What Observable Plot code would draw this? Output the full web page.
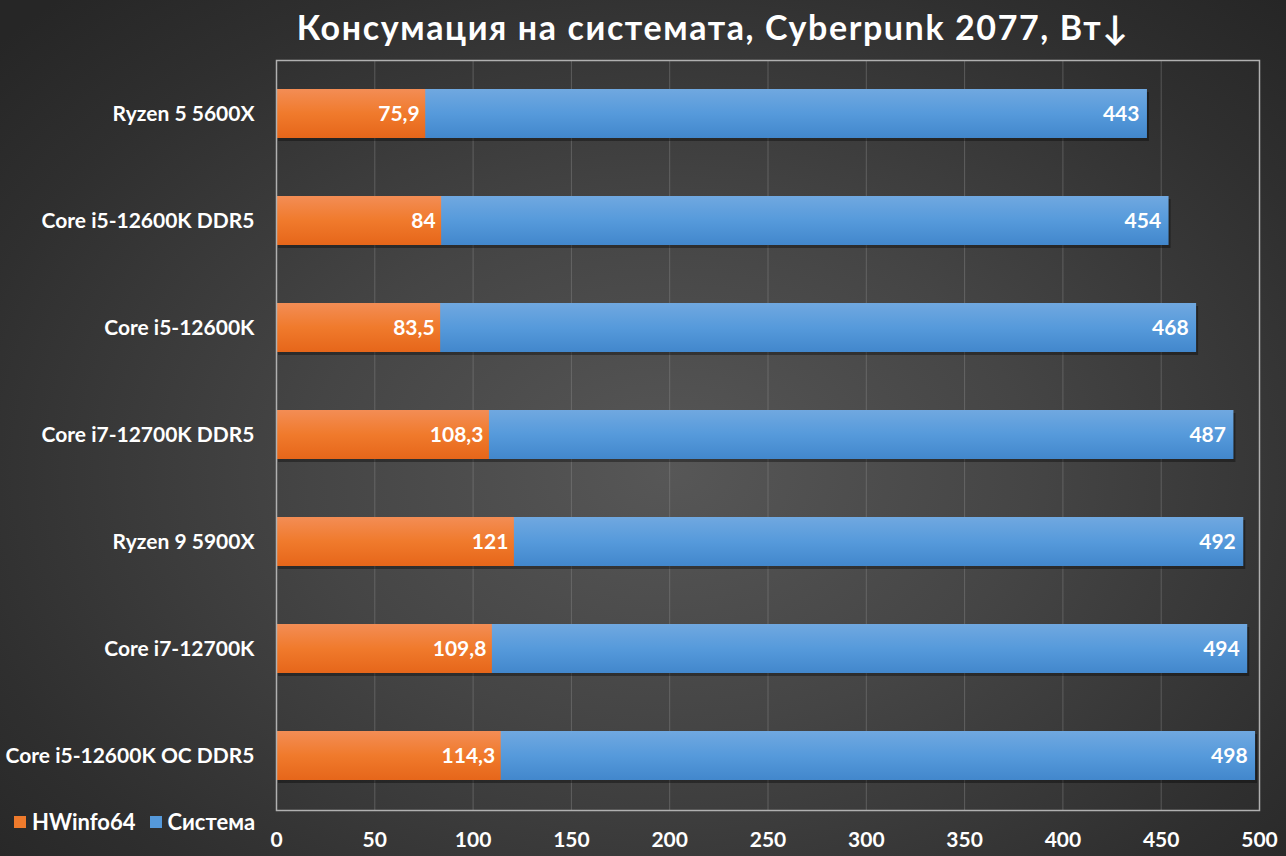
<!DOCTYPE html>
<html>
<head>
<meta charset="utf-8">
<script src="https://cdn.jsdelivr.net/npm/d3@7"></script>
<script src="https://cdn.jsdelivr.net/npm/@observablehq/plot@0.6"></script>
<style>
  html, body { margin: 0; padding: 0; }
  body {
    width: 1286px; height: 856px; overflow: hidden; position: relative;
    background: radial-gradient(ellipse 70% 75% at 52% 55%, #575757 0%, #454545 40%, #2f2f2f 80%, #262626 100%);
    font-family: Lato, "Open Sans", sans-serif; color: #fff;
  }
  #title {
    height: 56px; line-height: 54px; box-sizing: border-box;
    padding-left: 140px; text-align: center;
    font-size: 34px; font-weight: 700; letter-spacing: 1.6px;
    color: #fff;
  }
  #legend {
    position: absolute; left: 14px; top: 808px;
    font-size: 22px; font-weight: 700; display: flex; align-items: center; gap: 0;
  }
  #legend .sw { display: inline-block; width: 12px; height: 12px; margin-right: 6px; }
  #legend .item { display: flex; align-items: center; margin-right: 14px; }
  svg { display: block; background: transparent; overflow: visible; }
</style>
</head>
<body>
<div id="title">Консумация на системата, Cyberpunk 2077, Вт↓</div>
<div id="chart"></div>
<div id="legend">
  <span class="item"><span class="sw" style="background:#EE7A2C"></span>HWinfo64</span>
  <span class="item"><span class="sw" style="background:#5599DB"></span>Система</span>
</div>
<script>
const categories = [
  "Ryzen 5 5600X",
  "Core i5-12600K DDR5",
  "Core i5-12600K",
  "Core i7-12700K DDR5",
  "Ryzen 9 5900X",
  "Core i7-12700K",
  "Core i5-12600K OC DDR5"
];
const hwinfo = [75.9, 84, 83.5, 108.3, 121, 109.8, 114.3];
const system = [443, 454, 468, 487, 492, 494, 498];
const xTicks = [0, 50, 100, 150, 200, 250, 300, 350, 400, 450, 500];

const rows = categories.map((c, i) => ({cpu: c, hw: hwinfo[i], sys: system[i]}));
const fmt = v => String(v).replace(".", ",");

const chart = Plot.plot({
  width: 1286,
  height: 800,
  marginTop: 4,
  marginBottom: 46,
  marginLeft: 276,
  marginRight: 27,
  style: {background: "transparent", color: "#fff", fontFamily: "Lato, 'Open Sans', sans-serif"},
  x: {domain: [0, 500], ticks: xTicks, label: null},
  y: {domain: categories, label: null, paddingInner: 0.54, paddingOuter: 0.25},
  marks: [
    Plot.gridX(xTicks, {stroke: "#8a8a8a", strokeOpacity: 0.45, strokeWidth: 1}),
    Plot.barX(rows, {y: "cpu", x1: 0, x2: "sys", fill: "#000", fillOpacity: 0.35, dy: 3, dx: 2}),
    Plot.barX(rows, {y: "cpu", x1: 0, x2: "sys", fill: "url(#gblue)"}),
    Plot.barX(rows, {y: "cpu", x1: 0, x2: "hw", fill: "url(#gorange)"}),
    Plot.text(rows, {y: "cpu", x: "sys", text: d => fmt(d.sys), textAnchor: "end", dx: -8, fill: "#fff", fontSize: 21, fontWeight: 700}),
    Plot.text(rows, {y: "cpu", x: "hw", text: d => fmt(d.hw), textAnchor: "end", dx: -6, fill: "#fff", fontSize: 21, fontWeight: 700}),
    Plot.frame({stroke: "#b0b0b0", strokeWidth: 1.5}),
    Plot.axisX({ticks: xTicks, tickSize: 0, tickPadding: 22, fontSize: 21, fontWeight: 700, fill: "#fff", label: null}),
    Plot.axisY({tickSize: 0, tickPadding: 22, fontSize: 21, fontWeight: 700, fill: "#fff", label: null})
  ]
});

const ns = "http://www.w3.org/2000/svg";
const defs = document.createElementNS(ns, "defs");
defs.innerHTML = `
  <linearGradient id="gorange" x1="0" y1="0" x2="0" y2="1">
    <stop offset="0" stop-color="#F38D55"/>
    <stop offset="0.5" stop-color="#F07A2C"/>
    <stop offset="1" stop-color="#E6661A"/>
  </linearGradient>
  <linearGradient id="gblue" x1="0" y1="0" x2="0" y2="1">
    <stop offset="0" stop-color="#70A8E0"/>
    <stop offset="0.5" stop-color="#569ADB"/>
    <stop offset="1" stop-color="#4287CC"/>
  </linearGradient>`;
chart.insertBefore(defs, chart.firstChild);
document.getElementById("chart").appendChild(chart);
</script>
</body>
</html>
